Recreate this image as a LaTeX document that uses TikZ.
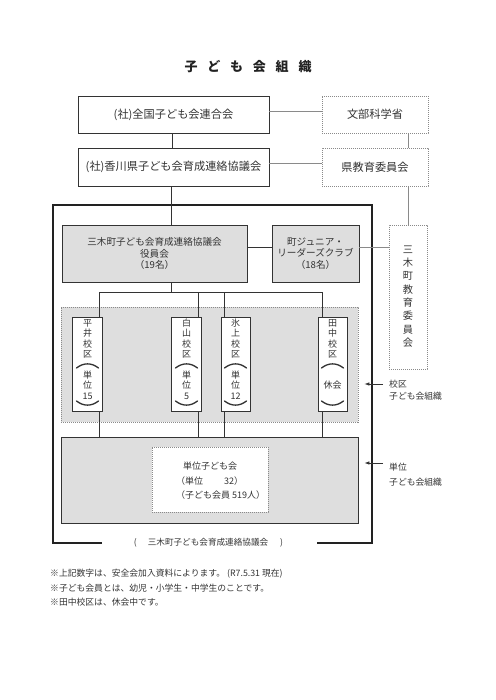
\documentclass[tikz,border=0pt]{standalone}
\usepackage{fontspec}
\setmainfont{Noto Sans CJK JP}
\usetikzlibrary{arrows.meta,calc}
\definecolor{lnc}{HTML}{333333}
\definecolor{frc}{HTML}{222222}
\definecolor{dsc}{HTML}{8A8A8A}
\definecolor{grayfill}{HTML}{DEDEDE}
\begin{document}
\begin{tikzpicture}[x=1pt,y=-1pt,
  box/.style={draw=lnc, line width=0.8pt, fill=white, inner sep=0pt, align=center, text=lnc},
  gbox/.style={box, fill=grayfill},
  dbox/.style={draw=dsc, line width=0.7pt, dash pattern=on 1.2pt off 0.8pt, fill=white, inner sep=0pt, align=center, text=lnc},
  conn/.style={draw=lnc, line width=0.7pt},
  dconn/.style={draw=dsc, line width=0.7pt, dash pattern=on 1.2pt off 0.8pt},
  schoolbox/.style={box, minimum width=30pt, minimum height=94pt},
  vt/.style={font=\fontsize{9}{10.5}\selectfont, inner sep=0pt, align=center, text=lnc},
  arcl/.style={draw=lnc, line width=1.3pt, line cap=round},
  bigt/.style={font=\fontsize{11.2}{13}\selectfont},
  midt/.style={font=\fontsize{9.6}{11.5}\selectfont},
  smallt/.style={font=\fontsize{8.8}{11}\selectfont, inner sep=0pt, text=lnc}
]
\useasboundingbox (0,0) rectangle (495,700);

% title
\node[text=frc] (title) at (248,67) {\fontsize{13}{15}\selectfont\bfseries 子\hspace{9.8pt}ど\hspace{9.8pt}も\hspace{9.8pt}会\hspace{9.8pt}組\hspace{9.8pt}織};

% top boxes
\node[box, bigt, minimum width=191pt, minimum height=37pt] (zenkoku) at (173.5,114.5) {(社)全国子ども会連合会};
\node[dbox, bigt, minimum width=106pt, minimum height=37pt] (monbu) at (375,114.5) {文部科学省};
\node[box, bigt, minimum width=191pt, minimum height=38pt] (kagawa) at (173.5,167) {(社)香川県子ども会育成連絡協議会};
\node[dbox, bigt, minimum width=106pt, minimum height=38pt] (kenkyo) at (375,167) {県教育委員会};

% outer frame
\coordinate (fA) at (102,543);
\coordinate (fB) at (53,543);
\coordinate (fC) at (53,205);
\coordinate (fD) at (372,205);
\coordinate (fE) at (372,543);
\coordinate (fF) at (317,543);
\draw[frc, line width=1.1pt] (fA) -- (fB) -- (fC) -- (fD) -- (fE) -- (fF);
\node[smallt, font=\fontsize{8.6}{10}\selectfont] (ftitle) at (208.5,543) {(\hspace{11pt}三木町子ども会育成連絡協議会\hspace{12pt})};

% second level
\node[gbox, midt, minimum width=185pt, minimum height=57pt] (yakuin) at (154.5,253.5) {三木町子ども会育成連絡協議会\\役員会\\（19名）};
\node[gbox, midt, minimum width=87pt, minimum height=57pt] (junior) at (315.5,253.5) {町ジュニア・\\リーダーズクラブ\\（18名）};
\node[dbox, minimum width=38pt, minimum height=144pt] (mikikyo) at (408,297) {};
\node[vt, font=\fontsize{10.2}{13.3}\selectfont] (mikikyot) at (408,296.5) {三\\木\\町\\教\\育\\委\\員\\会};

% regions
\node[draw=dsc, line width=0.7pt, dash pattern=on 1.2pt off 0.8pt, fill=grayfill, minimum width=297pt, minimum height=115pt, inner sep=0pt] (kouku) at (209.5,364.5) {};
\node[gbox, minimum width=297pt, minimum height=86pt] (unit) at (209.5,480) {};
\node[dbox, minimum width=116pt, minimum height=65pt] (unitin) at (210,479.5) {};
\node[smallt, font=\fontsize{9}{11}\selectfont, anchor=west] (u1) at (183,466) {単位子ども会};
\node[smallt, font=\fontsize{9}{11}\selectfont, anchor=west] (u2) at (176,481) {（単位\hspace{21pt}32）};
\node[smallt, font=\fontsize{9}{11}\selectfont, anchor=west] (u3) at (176,495) {（子ども会員 519人）};

% school boxes
\node[schoolbox] (hirai) at (87.5,364) {};
\node[schoolbox] (hakusan) at (186.5,364) {};
\node[schoolbox, minimum width=29pt] (hikami) at (235.5,364) {};
\node[schoolbox, minimum width=29pt] (tanaka) at (332.5,364) {};

\node[vt] (hiraia) at (87.5,338.75) {平\\井\\校\\区};
\node[vt] (hiraib) at (87.5,385) {単\\位\\15};
\node[vt] (hakusana) at (186.5,338.75) {白\\山\\校\\区};
\node[vt] (hakusanb) at (186.5,385) {単\\位\\5};
\node[vt] (hikamia) at (235.5,338.75) {氷\\上\\校\\区};
\node[vt] (hikamib) at (235.5,385) {単\\位\\12};
\node[vt] (tanakaa) at (332.5,338.75) {田\\中\\校\\区};
\node[vt] (tanakab) at (332.5,385) {休会};

\foreach \cx in {87.5,186.5,235.5,332.5}{
  \draw[arcl] (\cx-11,368) .. controls (\cx-4,362.5) and (\cx+4,362.5) .. (\cx+11,368);
  \draw[arcl] (\cx-11,401) .. controls (\cx-4,406.5) and (\cx+4,406.5) .. (\cx+11,401);
}

% connectors
\coordinate (c1) at (172,0);
\coordinate (c2) at (171,0);
\coordinate (cv) at (408,0);
\coordinate (zE) at ([yshift=3.5pt]zenkoku.east);
\coordinate (kE) at ([yshift=4pt]kagawa.east);
\coordinate (yE) at ([yshift=6.5pt]yakuin.east);
\coordinate (jE) at ([yshift=6.5pt]junior.east);
\draw[conn] (zenkoku.south -| c1) -- (kagawa.north -| c1);
\draw[conn] (kagawa.south -| c2) -- (yakuin.north -| c2);
\draw[dconn] (zE) -- (monbu.west |- zE);
\draw[dconn] (kE) -- (kenkyo.west |- kE);
\draw[dconn] (monbu.south -| cv) -- (kenkyo.north -| cv);
\draw[dconn] (kenkyo.south -| cv) -- (mikikyo.north -| cv);
\draw[conn] (yE) -- (junior.west |- yE);
\draw[dconn] (jE) -- (mikikyo.west |- jE);

\coordinate (xh) at (99,292);
\coordinate (xs) at (198,292);
\coordinate (xi) at (224,292);
\coordinate (xt) at (322,292);
\draw[conn] (yakuin.south -| c2) -- (c2 |- xh);
\draw[conn] (xh) -- (xt);
\draw[conn] (xh) -- (xh |- hirai.north);
\draw[conn] (xs) -- (xs |- hakusan.north);
\draw[conn] (xi) -- (xi |- hikami.north);
\draw[conn] (xt) -- (xt |- tanaka.north);
\draw[conn] (hirai.south -| xh) -- (unit.north -| xh);
\draw[conn] (hakusan.south -| xs) -- (unit.north -| xs);
\draw[conn] (hikami.south -| xi) -- (unit.north -| xi);
\draw[conn] (tanaka.south -| xt) -- (unit.north -| xt);

% side labels
\coordinate (a1) at (383,384);
\coordinate (a2) at (383,463);
\coordinate (t1) at ([xshift=6pt]kouku.east |- a1);
\coordinate (t2) at ([xshift=6pt]unit.east |- a2);
\draw[lnc, line width=0.7pt, -{Latex[length=5pt,width=3.5pt]}] (a1) -- (t1);
\draw[lnc, line width=0.7pt, -{Latex[length=5pt,width=3.5pt]}] (a2) -- (t2);
\node[smallt, anchor=west] (lab1a) at (389,384) {校区};
\node[smallt, anchor=west] (lab1b) at (389,396) {子ども会組織};
\node[smallt, anchor=west] (lab2a) at (389,467) {単位};
\node[smallt, anchor=west] (lab2b) at (389,482) {子ども会組織};

% notes
\node[smallt, anchor=west] (n1) at (50,574) {※上記数字は、安全会加入資料によります。 (R7.5.31 現在)};
\node[smallt, anchor=west] (n2) at (50,588) {※子ども会員とは、幼児・小学生・中学生のことです。};
\node[smallt, anchor=west] (n3) at (50,602) {※田中校区は、休会中です。};
\end{tikzpicture}
\end{document}
